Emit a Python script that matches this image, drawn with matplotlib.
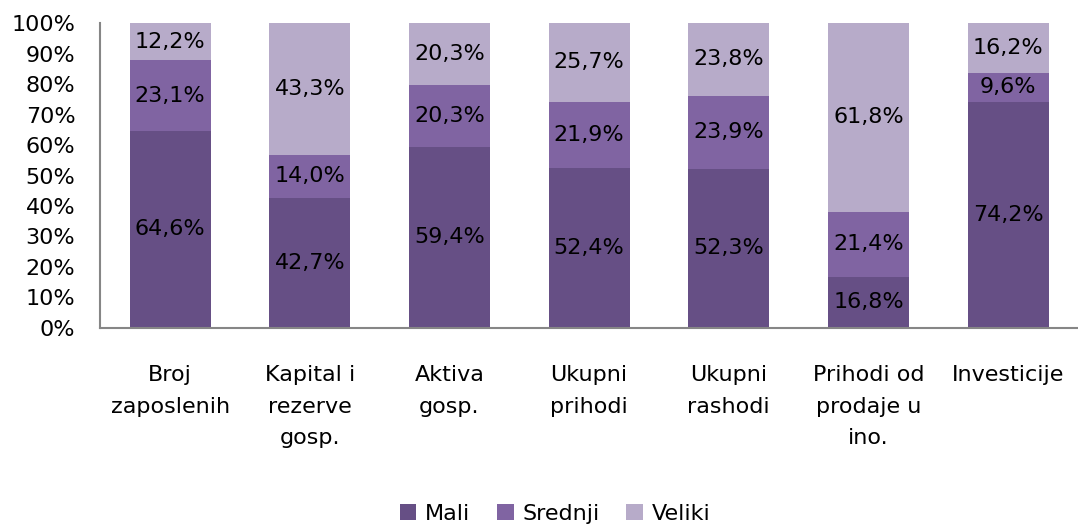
import matplotlib.pyplot as plt
import numpy as np

plt.rcParams['font.family'] = ['DejaVu Sans']

categories = ['Broj\nzaposlenih', 'Kapital i\nrezerve\ngosp.', 'Aktiva\ngosp.', 'Ukupni\nprihodi',
              'Ukupni\nrashodi', 'Prihodi od\nprodaje u\nino.', 'Investicije']
mali = [64.6, 42.7, 59.4, 52.4, 52.3, 16.8, 74.2]
srednji = [23.1, 14.0, 20.3, 21.9, 23.9, 21.4, 9.6]
veliki = [12.2, 43.3, 20.3, 25.7, 23.8, 61.8, 16.2]
series = [('Mali', mali, '#664f85'), ('Srednji', srednji, '#8064a2'), ('Veliki', veliki, '#b7abc9')]

fig = plt.figure(figsize=(10.78, 5.28), dpi=100)
ax = fig.add_axes([0.093, 0.379, 0.907, 0.577])

x = np.arange(len(categories))
totals = np.array(mali) + np.array(srednji) + np.array(veliki)
bottom = np.zeros(len(categories))
for name, vals, col in series:
    share = np.array(vals) / totals * 100
    ax.bar(x, share, 0.58, bottom=bottom, color=col, label=name)
    for xi, b, s, v in zip(x, bottom, share, vals):
        ax.text(xi, b + s / 2, f'{v:.1f}%'.replace('.', ','), ha='center', va='center',
                fontsize=16, color='black')
    bottom += share

ax.set_xlim(-0.5, 6.5)
ax.set_ylim(0, 100)
ax.set_yticks(range(0, 101, 10))
ax.set_yticklabels([f'{t}%' for t in range(0, 101, 10)], fontsize=16)
ax.set_xticks(x)
ax.set_xticklabels(categories, fontsize=16, linespacing=1.7, va='top')
ax.tick_params(axis='both', length=0)
ax.tick_params(axis='x', pad=27)
ax.tick_params(axis='y', pad=18)
for s in ['top', 'right']:
    ax.spines[s].set_visible(False)
for s in ['left', 'bottom']:
    ax.spines[s].set_color('#868686')
    ax.spines[s].set_linewidth(1.5)

fig.legend(loc='lower center', bbox_to_anchor=(0.515, -0.03), ncol=3, frameon=False, fontsize=16,
           handlelength=0.75, handleheight=0.75, handletextpad=0.4, columnspacing=1.2)

fig.savefig('out.png', dpi=100)
